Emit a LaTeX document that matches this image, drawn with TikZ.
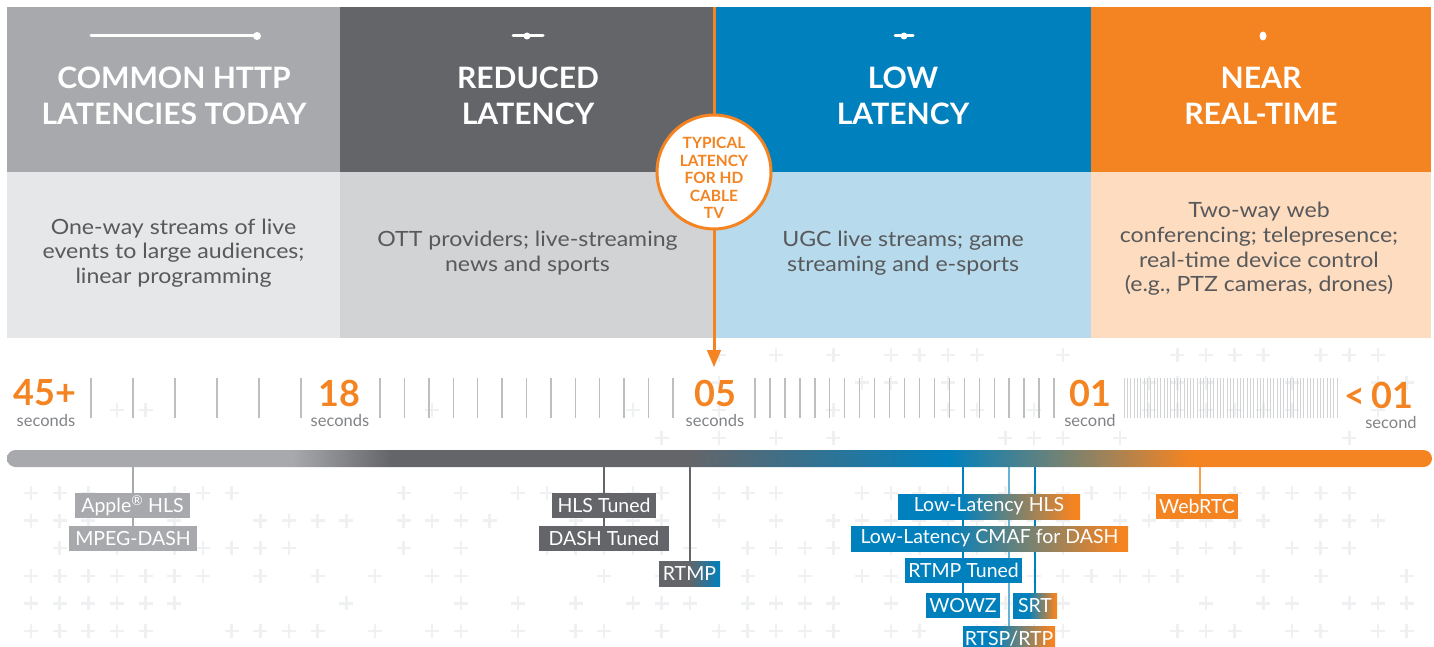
\documentclass[tikz,border=0pt]{standalone}
\usepackage{fontspec}
\setmainfont{Lato}
\usetikzlibrary{arrows,backgrounds}

\definecolor{cgray}{HTML}{A7A9AC}
\definecolor{cdark}{HTML}{636569}
\definecolor{cblue}{HTML}{0080BD}
\definecolor{corange}{HTML}{F48422}
\definecolor{lgray}{HTML}{E6E7E8}
\definecolor{ldark}{HTML}{D1D3D4}
\definecolor{lblue}{HTML}{B7DAEC}
\definecolor{lorange}{HTML}{FDDCC0}
\definecolor{txtgray}{HTML}{58595B}
\definecolor{secgray}{HTML}{808285}
\definecolor{tickgray}{HTML}{BCBEC0}
\definecolor{plusgray}{HTML}{EFF0F1}

\pgfdeclarehorizontalshading{barshade}{100bp}{color(0bp)=(cgray); color(35bp)=(cgray); color(38.5bp)=(cdark); color(49bp)=(cdark); color(58bp)=(cblue); color(66.5bp)=(corange); color(100bp)=(corange)}
\pgfdeclarehorizontalshading{rtmpshade}{100bp}{color(0bp)=(cdark); color(50bp)=(cdark); color(75bp)=(cblue); color(100bp)=(cblue)}
\pgfdeclarehorizontalshading{llshade}{100bp}{color(0bp)=(cblue); color(42bp)=(cblue); color(73bp)=(corange); color(100bp)=(corange)}

\begin{document}
\begin{tikzpicture}[>=triangle 45, x=1pt, y=-1pt,
	title/.style={text=white, font=\bfseries\fontsize{29.5}{36}\selectfont\addfontfeature{FakeStretch=1.02}, align=center},
	desc/.style={text=txtgray, font=\fontsize{21}{24.6}\selectfont\addfontfeature{FakeStretch=1.1}, align=center},
	num/.style={text=corange, font=\bfseries\fontsize{36}{36}\selectfont, inner sep=0pt},
	secs/.style={text=secgray, font=\fontsize{16.5}{16.5}\selectfont, inner sep=0pt},
	tick/.style={tickgray, line width=1.4pt},
	finetick/.style={ldark, line width=0.9pt},
	lbl/.style={text=white, font=\fontsize{19.5}{19.5}\selectfont, minimum height=25pt, inner sep=0pt},
	plus/.style={plusgray, line width=2.5pt}]

	\useasboundingbox (0,0) rectangle (1434,647);
	%\draw[gray,step=50] (0,0) grid (1434,647);

	% background crosses
	\begin{scope}[on background layer]
	\pgfmathsetseed{17}
	\foreach \r in {0,...,10}{
		\foreach \c in {0,...,48}{
			\pgfmathsetmacro\px{31+28.66*\c}
			\pgfmathsetmacro\py{355+27.6*\r}
			\pgfmathsetmacro\pth{(\py<445)*((\px>700)*0.5+(\px<=700)*(\py>400)*0.12)+(\py>470)*0.65}
			\pgfmathsetmacro\pr{rnd}
			\ifdim\pr pt<\pth pt
				\draw[plus] (\px,\py) +(-7,0) -- +(7,0) +(0,-7) -- +(0,7);
			\fi
		}
	}
	\end{scope}

	% panels
	\fill[cgray] (7,7) rectangle (340,172);
	\fill[cdark] (340,7) rectangle (715,172);
	\fill[cblue] (715,7) rectangle (1091,172);
	\fill[corange] (1091,7) rectangle (1431,172);
	\fill[lgray] (7,172) rectangle (340,338);
	\fill[ldark] (340,172) rectangle (715,338);
	\fill[lblue] (715,172) rectangle (1091,338);
	\fill[lorange] (1091,172) rectangle (1431,338);

	\draw[white, line width=3pt, line cap=round] (91,36) -- (257,36);
	\fill[white] (257,36) circle (4);
	\draw[white, line width=3pt, line cap=round] (513,36) -- (543,36);
	\fill[white] (527,36) circle (3.5);
	\draw[white, line width=3pt, line cap=round] (895,36) -- (913,36);
	\fill[white] (904,36) circle (3.5);
	\fill[white] (1263,36) ellipse (3.5 and 4.5);

	\node[title] (t1) at (174,96) {COMMON HTTP\\LATENCIES TODAY};
	\node[title] (t2) at (528,96) {REDUCED\\LATENCY};
	\node[title] (t3) at (903,96) {LOW\\LATENCY};
	\node[title] (t4) at (1261,96) {NEAR\\REAL-TIME};

	\node[desc] (d1) at (173.5,253) {One-way streams of live\\events to large audiences;\\linear programming};
	\node[desc] (d2) at (527.5,253) {OTT providers; live-streaming\\news and sports};
	\node[desc] (d3) at (903,253) {UGC live streams; game\\streaming and e-sports};
	\node[desc] (d4) at (1259,249) {Two-way web\\conferencing; telepresence;\\real-time device control\\(e.g., PTZ cameras, drones)};

	% typical latency marker
	\coordinate (cabletop) at (714,7);
	\coordinate (cabletip) at (714,367);
	\draw[->, corange, line width=3pt] (cabletop) -- (cabletip);
	\node[circle, draw=corange, line width=3pt, fill=white, minimum size=114pt, inner sep=0pt] (cable) at (714,172) {};
	\node[text=corange, align=center, font=\bfseries\fontsize{15.5}{17.6}\selectfont] (cabletxt) at (714,178) {TYPICAL\\LATENCY\\FOR HD\\CABLE\\TV};

	% scale
	\foreach \k in {0,...,5} \draw[tick] ({91+42*\k},378) -- ++(0,40);
	\foreach \k in {0,...,12} \draw[tick] ({380+24.4*\k},378) -- ++(0,40);
	\foreach \k in {0,...,20} \draw[tick] ({755+14.95*\k},378) -- ++(0,40);
	\foreach \k in {0,...,64} \draw[finetick] ({1124+3.33*\k},378) -- ++(0,40);

	\node[num] (n45) at (45,393) {45+};
	\node[secs] (s45) at (46,420) {seconds};
	\node[num] (n18) at (339,393) {18};
	\node[secs] (s18) at (340,420) {seconds};
	\node[num] (n05) at (715,393) {05};
	\node[secs] (s05) at (715,420) {seconds};
	\node[num] (n01) at (1090,393) {01};
	\node[secs] (s01) at (1090,420) {second};
	\node[num] (nlt) at (1379,395) {<\,01};
	\node[secs] (slt) at (1391,422) {second};

	\shade[shading=barshade, rounded corners=8.5pt] (7,450) rectangle (1432,467);
	\coordinate (barS) at (0,467);

	% protocols
	\node[lbl, fill=cgray, minimum width=115pt] (apple) at (132.5,505.5) {Apple\textsuperscript{®} HLS};
	\node[lbl, fill=cgray, minimum width=128pt] (mpeg) at (133,538.5) {MPEG-DASH};
	\node[lbl, fill=cdark, minimum width=104pt] (hlst) at (604,505.5) {HLS Tuned};
	\node[lbl, fill=cdark, minimum width=130pt] (dasht) at (604,538.5) {DASH Tuned};
	\node[lbl, shade, shading=rtmpshade, minimum width=61pt] (rtmp) at (689.5,573.5) {RTMP};
	\node[lbl, shade, shading=llshade, minimum width=182pt] (llhls) at (989,506.5) {Low-Latency HLS};
	\node[lbl, shade, shading=llshade, minimum width=277pt] (cmaf) at (989.5,538.5) {Low-Latency CMAF for DASH};
	\node[lbl, fill=cblue, minimum width=117pt] (rtmpt) at (963.5,570.5) {RTMP Tuned};
	\node[lbl, fill=cblue, minimum width=74pt] (wowz) at (963,605.5) {WOWZ};
	\node[lbl, shade, shading=llshade, minimum width=44pt] (srt) at (1035,605.5) {SRT};
	\node[lbl, shade, shading=llshade, minimum width=92pt] (rtsp) at (1009,638.5) {RTSP/RTP};
	\node[lbl, fill=corange, minimum width=82pt] (webrtc) at (1197,506.5) {WebRTC};

	\begin{scope}[on background layer]
	\draw[cgray, line width=2pt] (mpeg.north |- barS) -- (mpeg.north);
	\draw[cdark, line width=2pt] (dasht.north |- barS) -- (dasht.north);
	\draw[cdark, line width=2pt] (rtmp.north |- barS) -- (rtmp.north);
	\draw[cblue, line width=2pt] (wowz.north |- barS) -- (wowz.north);
	\draw[cblue!60, line width=2pt] (rtsp.north |- barS) -- (rtsp.north);
	\draw[cblue, line width=2pt] (srt.north |- barS) -- (srt.north);
	\draw[corange!80, line width=2pt] ([xshift=3pt]webrtc.north |- barS) -- ([xshift=3pt]webrtc.north);
	\end{scope}
\end{tikzpicture}
\end{document}
